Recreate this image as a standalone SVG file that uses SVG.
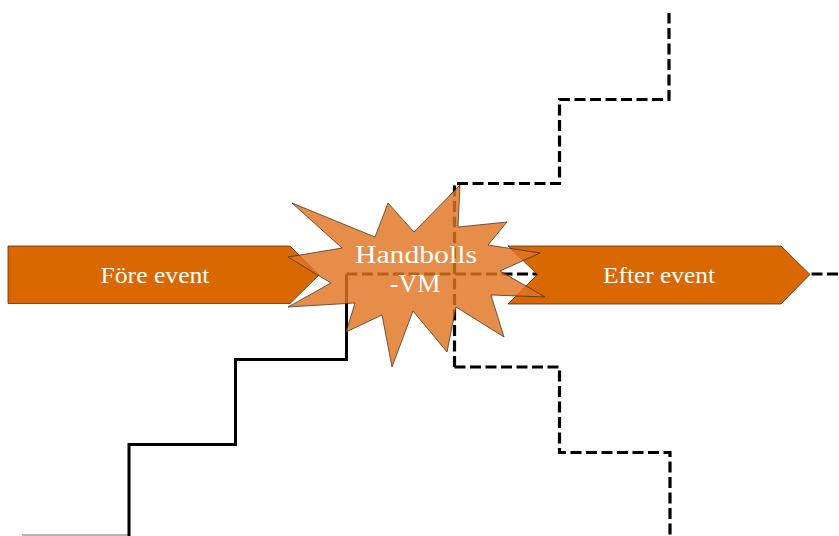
<svg xmlns="http://www.w3.org/2000/svg" width="839" height="536" viewBox="0 0 839 536">
  <style>
    .solid { fill: none; stroke: #000; stroke-width: 3; stroke-linejoin: miter; }
    .dashed { fill: none; stroke: #000; stroke-width: 3.2; stroke-dasharray: 11 4.5; }
    .arrow { fill: #DA6800; stroke: #4a3020; stroke-width: 0.8; }
    .burst { fill: #E07422; fill-opacity: 0.82; stroke: #3a2a1a; stroke-width: 0.8; stroke-opacity: 0.9; }
    .label { font-family: "Liberation Serif", "DejaVu Serif", serif; fill: #fff; text-anchor: middle; }
  </style>

  <!-- connectors: rising solid path and branching dashed paths -->
  <g id="connectors">
    <line x1="22" y1="535" x2="129" y2="535" stroke="#9a9a9a" stroke-width="1.5"/>
    <path class="solid" d="M129,536 V444.5 H235.5 V359.5 H346.5 V274"/>
    <path class="dashed" d="M346.5,274 H839"/>
    <path class="dashed" d="M454.5,367 V183.5 H559.5 V99.5 H669 V13"/>
    <path class="dashed" d="M454.5,367 H559.5 V452.5 H670 V536"/>
  </g>

  <g id="fore-event">
    <polygon class="arrow" points="8,246 290,246 319,275 290,303.5 8,303.5"/>
    <text class="label" x="155" y="282.5" font-size="23" textLength="109" lengthAdjust="spacingAndGlyphs">Före event</text>
  </g>

  <!-- notched chevron -->
  <g id="efter-event">
    <polygon class="arrow" points="508,246 781,246 810,274.5 781,304 508,304 537.5,274.5"/>
    <text class="label" x="659" y="282.5" font-size="23" textLength="112" lengthAdjust="spacingAndGlyphs">Efter event</text>
  </g>

  <g id="handbolls-vm">
    <polygon class="burst" points="292,203 375,237 388,203 414,232 460,185 458,227 507,222 488,245 540,253 500,271 545,297 491,295 504,337 456,307 447,352 413,311 392,367 382,315 346,332 355,303 288,307 331,283 288,257 342,248"/>
    <text class="label" x="416" y="262.5" font-size="26" textLength="122" lengthAdjust="spacingAndGlyphs">Handbolls</text>
    <text class="label" x="415" y="291.5" font-size="26">-VM</text>
  </g>
</svg>
